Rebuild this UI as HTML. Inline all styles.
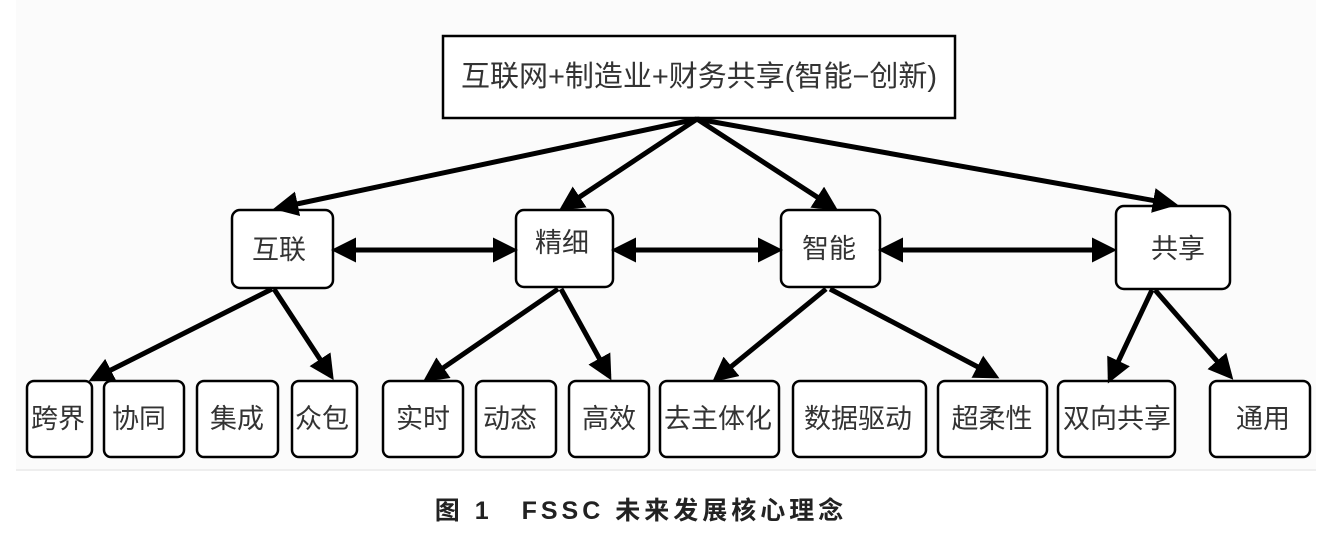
<!DOCTYPE html>
<html><head><meta charset="utf-8"><style>
body{margin:0;background:#fff;}
svg text{font-family:"Liberation Sans","Noto Sans CJK SC",sans-serif;fill:#333;}
</style></head><body>
<svg width="1332" height="553" viewBox="0 0 1332 553" xmlns="http://www.w3.org/2000/svg">
<defs><marker id="a" markerWidth="5" markerHeight="5" refX="4" refY="2.5" orient="auto" markerUnits="strokeWidth"><path d="M0,0 L5,2.5 L0,5 z" fill="#000"/></marker>
<marker id="b" markerWidth="5" markerHeight="5" refX="1" refY="2.5" orient="auto" markerUnits="strokeWidth"><path d="M5,0 L0,2.5 L5,5 z" fill="#000"/></marker></defs>
<rect x="16" y="0" width="1300" height="470" fill="#fbfbfb"/>
<line x1="16" y1="470" x2="1316" y2="470" stroke="#eee" stroke-width="2"/>
<g stroke="#000" stroke-width="2.5" fill="#fff">
<rect x="443" y="36" width="512" height="82"/>
<rect x="232" y="210" width="101" height="78" rx="8"/>
<rect x="516" y="210" width="97" height="77" rx="8"/>
<rect x="781" y="210" width="99" height="77" rx="8"/>
<rect x="1116" y="206" width="114" height="83" rx="8"/>
<rect x="27" y="381" width="65" height="76" rx="7"/>
<rect x="104" y="381" width="80" height="76" rx="7"/>
<rect x="197" y="381" width="81" height="76" rx="7"/>
<rect x="292" y="381" width="65" height="76" rx="7"/>
<rect x="383" y="381" width="80" height="76" rx="7"/>
<rect x="476" y="381" width="80" height="76" rx="7"/>
<rect x="569" y="381" width="80" height="76" rx="7"/>
<rect x="660" y="381" width="119" height="76" rx="7"/>
<rect x="793" y="381" width="133" height="76" rx="7"/>
<rect x="938" y="381" width="109" height="76" rx="7"/>
<rect x="1058" y="381" width="117" height="76" rx="7"/>
<rect x="1210" y="381" width="100" height="76" rx="7"/>
</g>
<g stroke="#000" stroke-width="5" marker-end="url(#a)">
<line x1="697" y1="119" x2="278" y2="208"/>
<line x1="697" y1="119" x2="563" y2="208"/>
<line x1="697" y1="119" x2="834" y2="208"/>
<line x1="697" y1="119" x2="1173" y2="204"/>
<line x1="336" y1="250" x2="513" y2="250" marker-start="url(#b)"/>
<line x1="616" y1="250" x2="778" y2="250" marker-start="url(#b)"/>
<line x1="883" y1="250" x2="1112" y2="250" marker-start="url(#b)"/>
<line x1="272" y1="289" x2="93" y2="379"/>
<line x1="274" y1="289" x2="331" y2="376"/>
<line x1="558" y1="289" x2="427" y2="379"/>
<line x1="561" y1="289" x2="609" y2="376"/>
<line x1="826" y1="289" x2="716" y2="379"/>
<line x1="830" y1="289" x2="995" y2="376"/>
<line x1="1152" y1="290" x2="1110" y2="379"/>
<line x1="1155" y1="290" x2="1230" y2="376"/>
</g>
<g font-size="27" text-anchor="middle">
<text x="699" y="86" font-size="29">互联网+制造业+财务共享(智能−创新)</text>
<text x="279" y="259">互联</text>
<text x="562" y="252">精细</text>
<text x="829" y="258">智能</text>
<text x="1178" y="258">共享</text>
<text x="58" y="428">跨界</text>
<text x="139" y="428">协同</text>
<text x="237" y="428">集成</text>
<text x="322" y="428">众包</text>
<text x="423" y="428">实时</text>
<text x="510" y="428">动态</text>
<text x="609" y="428">高效</text>
<text x="718" y="428">去主体化</text>
<text x="858" y="428">数据驱动</text>
<text x="992" y="428">超柔性</text>
<text x="1117" y="428">双向共享</text>
<text x="1263" y="428">通用</text>
</g>
<text x="641" y="519" font-size="25" font-weight="bold" text-anchor="middle" letter-spacing="4" style="fill:#222">图 1　FSSC 未来发展核心理念</text>
</svg>
</body></html>
